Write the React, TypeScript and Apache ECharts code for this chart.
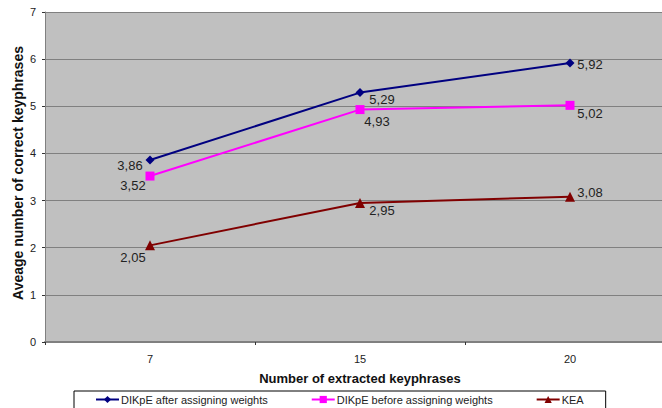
import React, { useEffect, useRef } from "react";
import * as echarts from "echarts";

const categories = ["7", "15", "20"];
const seriesNames = [
  "DIKpE after assigning weights",
  "DIKpE before assigning weights",
  "KEA",
];
const afterWeights = [3.86, 5.29, 5.92];
const beforeWeights = [3.52, 4.93, 5.02];
const keaValues = [2.05, 2.95, 3.08];
const yTicks = [0, 1, 2, 3, 4, 5, 6, 7];

// label offsets (style only)
const afterOffsets = [[-20, 5], [22, 7], [20, 2]];
const beforeOffsets = [[-17, 9], [17, 12], [20, 8]];
const keaOffsets = [[-17, 12], [22, 8], [20, -4]];

const fmt = (v: number) => v.toFixed(2).replace(".", ",");

function buildData(values: number[], offsets: number[][]) {
  return values.map((v, i) => ({
    value: v,
    label: { offset: offsets[i] },
  }));
}

export default function App() {
  const ref = useRef<HTMLDivElement>(null);
  useEffect(() => {
    if (!ref.current) return;
    const chart = echarts.init(ref.current, null, { renderer: "svg" });
    const font = "Liberation Sans, Arial, sans-serif";
    const labelCfg = {
      show: true,
      position: "inside",
      color: "#222",
      fontSize: 13,
      fontFamily: font,
      formatter: (p: any) => fmt(p.value),
    };
    const mk = (
      name: string,
      values: number[],
      offsets: number[][],
      color: string,
      symbol: string,
      size: number
    ) => ({
      name,
      type: "line",
      data: buildData(values, offsets),
      symbol,
      symbolSize: size,
      lineStyle: { color, width: 2 },
      itemStyle: { color },
      label: labelCfg,
      emphasis: { disabled: true },
    });
    chart.setOption({
      animation: false,
      backgroundColor: "#ffffff",
      textStyle: { fontFamily: font },
      grid: {
        left: 45,
        top: 12,
        width: 630,
        height: 330,
        show: true,
        backgroundColor: "#C0C0C0",
        borderWidth: 0,
        containLabel: false,
        outerBoundsMode: "none",
      },
      legend: {
        left: 74,
        top: 391,
        orient: "horizontal",
        data: seriesNames,
        itemGap: 43,
        itemWidth: 23,
        itemHeight: 9,
        padding: [3, 22, 6, 21],
        borderColor: "#000",
        borderWidth: 1,
        backgroundColor: "#fff",
        textStyle: {
          fontSize: 11,
          color: "#222",
          fontFamily: font,
          padding: [0, 0, 0, -3],
        },
      },
      xAxis: {
        type: "category",
        data: categories,
        boundaryGap: true,
        name: "Number of extracted keyphrases",
        nameLocation: "middle",
        nameGap: 30,
        nameMoveOverlap: false,
        nameTextStyle: {
          fontSize: 13,
          fontWeight: "bold",
          color: "#111",
          fontFamily: font,
        },
        axisLine: { show: true, lineStyle: { color: "#808080", width: 2 } },
        axisTick: { show: true, alignWithLabel: false, length: 3, lineStyle: { color: "#333" } },
        axisLabel: { fontSize: 11, color: "#222", margin: 11, fontFamily: font },
        splitLine: { show: false },
      },
      yAxis: {
        type: "value",
        min: yTicks[0],
        max: yTicks[yTicks.length - 1],
        interval: 1,
        name: "Aveage number of correct keyphrases",
        nameLocation: "middle",
        nameGap: 20,
        nameMoveOverlap: false,
        nameTextStyle: {
          fontSize: 14,
          fontWeight: "bold",
          color: "#111",
          fontFamily: font,
          padding: [0, 0, 0, 8],
        },
        axisLine: { show: true, lineStyle: { color: "#808080", width: 1 } },
        axisTick: { show: true, length: 3, lineStyle: { color: "#333" } },
        axisLabel: { fontSize: 11, color: "#222", margin: 9, fontFamily: font },
        splitLine: { show: true, lineStyle: { color: "#808080", width: 1 } },
      },
      series: [
        mk(seriesNames[0], afterWeights, afterOffsets, "#000080", "diamond", 9),
        mk(seriesNames[1], beforeWeights, beforeOffsets, "#FF00FF", "rect", 9),
        mk(seriesNames[2], keaValues, keaOffsets, "#800000", "triangle", 10),
      ],
    });
    return () => chart.dispose();
  }, []);
  return (
    <div
      ref={ref}
      style={{ position: "absolute", left: 0, top: 0, width: 662, height: 408 }}
    />
  );
}
